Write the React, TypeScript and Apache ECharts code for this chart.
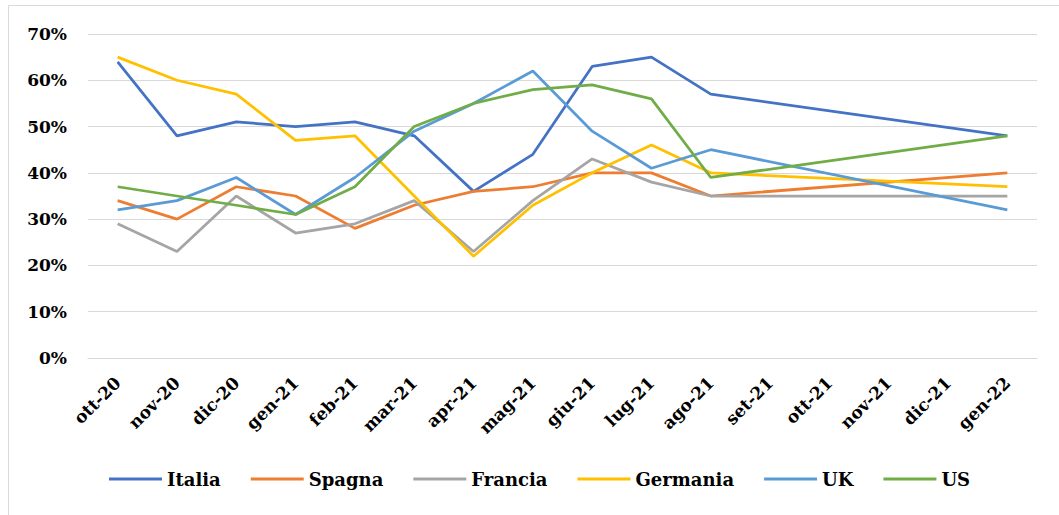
import React, { useEffect, useRef } from "react";
import * as echarts from "echarts";

const categories = ["ott-20","nov-20","dic-20","gen-21","feb-21","mar-21","apr-21","mag-21","giu-21","lug-21","ago-21","set-21","ott-21","nov-21","dic-21","gen-22"];
const italia = [64,48,51,50,51,48,36,44,63,65,57,null,null,null,null,48];
const spagna = [34,30,37,35,28,33,36,37,40,40,35,null,null,null,null,40];
const francia = [29,23,35,27,29,34,23,34,43,38,35,null,null,null,null,35];
const germania = [65,60,57,47,48,35,22,33,40,46,40,null,null,null,null,37];
const uk = [32,34,39,31,39,49,55,62,49,41,45,null,null,null,null,32];
const us = [37,35,33,31,37,50,55,58,59,56,39,null,null,null,null,48];

const seriesDefs = [
  { name: "Italia", data: italia, color: "#4472C4" },
  { name: "Spagna", data: spagna, color: "#ED7D31" },
  { name: "Francia", data: francia, color: "#A5A5A5" },
  { name: "Germania", data: germania, color: "#FFC000" },
  { name: "UK", data: uk, color: "#5B9BD5" },
  { name: "US", data: us, color: "#70AD47" },
];

const FONT = "DejaVu Serif";

export default function App() {
  const ref = useRef<HTMLDivElement>(null);
  useEffect(() => {
    if (!ref.current) return;
    const chart = echarts.init(ref.current, undefined, { renderer: "svg" });
    chart.setOption({
      animation: false,
      backgroundColor: "#ffffff",
      graphic: [
        {
          type: "rect",
          shape: { x: 8.5, y: 5.5, width: 1060, height: 520 },
          style: { fill: "none", stroke: "#d9d9d9", lineWidth: 1 },
          silent: true,
        },
      ],
      grid: { left: 88, right: 22, top: 34, bottom: 157 },
      legend: {
        top: 465,
        left: 104,
        icon: "rect",
        itemWidth: 53,
        itemHeight: 3,
        itemGap: 30,
        textStyle: { fontFamily: FONT, fontWeight: "bold", fontSize: 18, color: "#000" },
        data: seriesDefs.map((s) => s.name),
      },
      xAxis: {
        type: "category",
        data: categories,
        boundaryGap: true,
        axisLine: { lineStyle: { color: "#d9d9d9" } },
        axisTick: { show: false },
        axisLabel: {
          rotate: 45,
          interval: 0,
          margin: 22,
          fontFamily: FONT,
          fontWeight: "bold",
          fontSize: 17,
          color: "#000",
        },
      },
      yAxis: {
        type: "value",
        min: 0,
        max: 70,
        interval: 10,
        axisLine: { show: false },
        axisTick: { show: false },
        splitLine: { lineStyle: { color: "#d9d9d9", width: 1 } },
        axisLabel: {
          formatter: "{value}%",
          margin: 21,
          fontFamily: FONT,
          fontWeight: "bold",
          fontSize: 17,
          color: "#000",
        },
      },
      series: seriesDefs.map((s) => ({
        name: s.name,
        type: "line",
        data: s.data,
        connectNulls: true,
        symbol: "none",
        color: s.color,
        lineStyle: { width: 2.75, color: s.color },
      })),
    });
    return () => chart.dispose();
  }, []);
  return (
    <div
      ref={ref}
      style={{ position: "absolute", left: 0, top: 0, width: 1059, height: 515 }}
    />
  );
}
